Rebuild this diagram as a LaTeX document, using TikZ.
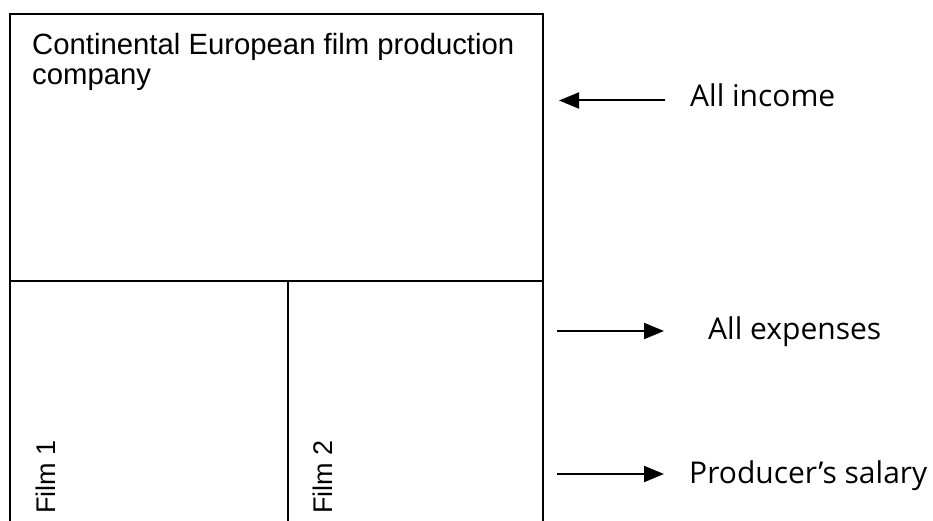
\documentclass[tikz,border=0pt]{standalone}
\usepackage{fontspec}
\setmainfont{Liberation Sans}
\newfontfamily\rfont{Open Sans}
\usetikzlibrary{arrows.meta}
\tikzset{
  frame/.style={line width=2pt, black},
  conn/.style={line width=2pt, -{Triangle[length=20pt,width=16pt]}},
  boxtext/.style={font=\fontsize{29.3}{30.5}\selectfont, inner sep=0pt},
  filmtext/.style={font=\fontsize{27}{30}\selectfont, inner sep=0pt, rotate=90, anchor=base west},
  sidetext/.style={font=\rfont\fontsize{30}{34}\selectfont, inner sep=0pt, anchor=base west},
}
\begin{document}
\begin{tikzpicture}[x=1pt,y=-1pt]
\useasboundingbox (0,0) rectangle (933,521);
% frame
\coordinate (bl) at (10,521);
\coordinate (tl) at (10,14);
\coordinate (tr) at (543,14);
\coordinate (br) at (543,521);
\coordinate (ml) at (10,281);
\coordinate (mr) at (543,281);
\coordinate (dt) at (288,281);
\coordinate (db) at (288,521);
\draw[frame] (bl) -- (tl) -- (tr) -- (br);
\draw[frame] (ml) -- (mr);
\draw[frame] (dt) -- (db);
% texts in box
\node[boxtext, anchor=north west, align=left] (company) at (32,33) {Continental European film production\\company};
\node[filmtext] (film1) at (55,514) {Film 1};
\node[filmtext] (film2) at (332,514) {Film 2};
% side labels
\node[sidetext] (income) at (690,107) {All income};
\node[sidetext] (expenses) at (708,339) {All expenses};
\node[sidetext] (salary) at (689,483) {Producer’s salary};
% connectors
\coordinate (incA) at (665,100.5);
\coordinate (incB) at (559,100.5);
\coordinate (expA) at (557,331);
\coordinate (expB) at (664,331);
\coordinate (salA) at (557,474);
\coordinate (salB) at (664,474);
\draw[conn] (incA) -- (incB);
\draw[conn] (expA) -- (expB);
\draw[conn] (salA) -- (salB);
\end{tikzpicture}
\end{document}
